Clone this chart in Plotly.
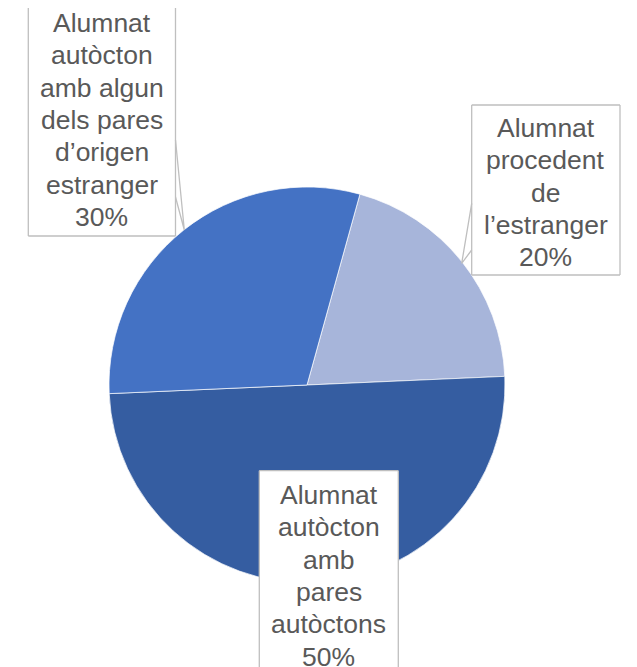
import plotly.graph_objects as go

# ---- data ----
categories = [
    "Alumnat procedent de l’estranger",
    "Alumnat autòcton amb pares autòctons",
    "Alumnat autòcton amb algun dels pares d’origen estranger",
]
values = [20, 50, 30]
colors = ["#A7B5DA", "#355DA1", "#4472C4"]
label_lines = [
    ["Alumnat", "procedent", "de", "l’estranger"],
    ["Alumnat", "autòcton", "amb", "pares", "autòctons"],
    ["Alumnat", "autòcton", "amb algun", "dels pares", "d’origen", "estranger"],
]

W, H = 637, 667
total = sum(values)
pct = [f"{round(100 * v / total)}%" for v in values]

def px(x):
    return x / W

def py(y):
    return 1 - y / H

cx, cy, r = 307, 385, 198

fig = go.Figure(go.Pie(
    labels=categories,
    values=values,
    sort=False,
    direction="clockwise",
    rotation=15.5,
    marker=dict(colors=colors, line=dict(color="rgba(255,255,255,0.7)", width=1)),
    textinfo="none",
    hoverinfo="skip",
    showlegend=False,
    domain=dict(x=[px(cx - r), px(cx + r)], y=[py(cy + r), py(cy - r)]),
))

# label boxes (pixel geometry): left, right, top, bottom, first line centre
boxes = [
    dict(l=471.7, r=620.0, t=105.0, b=275.0, y0=128, sides="tlbr",
         lead=[(471.7, 203.3), (461.7, 263.3), (471.7, 250.0)]),
    dict(l=259.3, r=398.3, t=470.7, b=700.0, y0=495, sides="tlr", lead=None),
    dict(l=28.3, r=175.5, t=8.0, b=236.0, y0=23, sides="lbr",
         lead=[(175.5, 140.0), (184.3, 230.0), (175.5, 197.0)]),
]
border = "#BFBFBF"
line_step = 32.3

shapes = []
annotations = []
for i, bx in enumerate(boxes):
    shapes.append(dict(type="rect", xref="paper", yref="paper",
                       x0=px(bx["l"]), x1=px(bx["r"]), y0=py(bx["b"]), y1=py(bx["t"]),
                       fillcolor="white", line=dict(width=0), layer="above"))
    segs = []
    if "t" in bx["sides"]:
        segs.append(f"M{px(bx['l'])},{py(bx['t'])} L{px(bx['r'])},{py(bx['t'])}")
    if "l" in bx["sides"]:
        segs.append(f"M{px(bx['l'])},{py(bx['t'])} L{px(bx['l'])},{py(bx['b'])}")
    if "b" in bx["sides"]:
        segs.append(f"M{px(bx['l'])},{py(bx['b'])} L{px(bx['r'])},{py(bx['b'])}")
    if "r" in bx["sides"]:
        segs.append(f"M{px(bx['r'])},{py(bx['t'])} L{px(bx['r'])},{py(bx['b'])}")
    shapes.append(dict(type="path", xref="paper", yref="paper", path=" ".join(segs),
                       line=dict(color=border, width=1.3), layer="above"))
    if bx["lead"]:
        pts = bx["lead"]
        path = "M" + " L".join(f"{px(a)},{py(b)}" for a, b in pts)
        shapes.append(dict(type="path", xref="paper", yref="paper", path=path,
                           line=dict(color=border, width=1.3), layer="above"))
    lines = label_lines[i] + [pct[i]]
    xc = (bx["l"] + bx["r"]) / 2
    for k, txt in enumerate(lines):
        annotations.append(dict(
            text=txt, xref="paper", yref="paper",
            x=px(xc), y=py(bx["y0"] + k * line_step),
            xanchor="center", yanchor="middle", showarrow=False,
            font=dict(family="Liberation Sans, Arial, sans-serif", size=26.5, color="#595959"),
        ))

fig.update_layout(
    width=W, height=H,
    margin=dict(l=0, r=0, t=0, b=0),
    paper_bgcolor="white", plot_bgcolor="white",
    shapes=shapes, annotations=annotations,
)

fig.write_html("out.html")
